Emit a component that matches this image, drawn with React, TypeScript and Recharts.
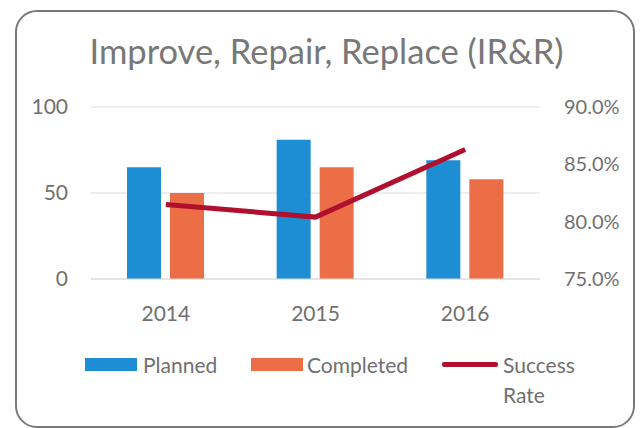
import React from 'react';
import { ComposedChart, Bar, Line, XAxis, YAxis, CartesianGrid, Legend } from 'recharts';

const years = ['2014', '2015', '2016'];
const planned = [65, 81, 69];
const completed = [50, 65, 58];
const successRate = [0.815, 0.804, 0.863];
const leftTicks = [0, 50, 100];
const rightTicks = [0.75, 0.8, 0.85, 0.9];

const data = years.map((y, i) => ({
  year: y,
  planned: planned[i],
  completed: completed[i],
  rate: successRate[i],
}));

const FONT = 'Lato, "Open Sans", sans-serif';
const BLUE = '#1E8ED4';
const ORANGE = '#EC6E47';
const RED = '#B0102E';
const TEXT = '#707070';

const LegendContent = () => (
  <div style={{ position: 'relative', width: 644, height: 70, fontFamily: FONT, fontSize: 21, color: TEXT }}>
    <div style={{ position: 'absolute', left: 85, top: 8, width: 52, height: 13, background: BLUE }} />
    <div style={{ position: 'absolute', left: 143, top: 0, lineHeight: '30px' }}>Planned</div>
    <div style={{ position: 'absolute', left: 251, top: 8, width: 52, height: 13, background: ORANGE }} />
    <div style={{ position: 'absolute', left: 307, top: 0, lineHeight: '30px' }}>Completed</div>
    <div style={{ position: 'absolute', left: 442, top: 12, width: 56, height: 5, background: RED, borderRadius: 2 }} />
    <div style={{ position: 'absolute', left: 503, top: 0, lineHeight: '30px' }}>
      Success
      <br />
      Rate
    </div>
  </div>
);

export default function App() {
  return (
    <div style={{ position: 'absolute', left: 0, top: 0, width: 644, height: 428, background: '#fff', overflow: 'hidden' }}>
      <div
        style={{
          position: 'absolute',
          left: 15,
          top: 10,
          width: 620,
          height: 418,
          border: '2px solid #7a7a7a',
          borderRadius: 22,
          boxSizing: 'border-box',
        }}
      />
      <div
        style={{
          position: 'absolute',
          left: 0,
          top: 31,
          width: 653,
          textAlign: 'center',
          fontFamily: FONT,
          fontSize: 34.5,
          lineHeight: '40px',
          color: '#787878',
        }}
      >
        Improve, Repair, Replace (IR&amp;R)
      </div>
      <ComposedChart
        width={644}
        height={428}
        data={data}
        margin={{ top: 107, right: 0, bottom: 119, left: 0 }}
        barSize={34}
        barGap={9}
        style={{ position: 'absolute', left: 0, top: 0 }}
      >
        <CartesianGrid yAxisId="left" vertical={false} stroke="#dcdcdc" strokeWidth={1} />
        <XAxis
          dataKey="year"
          height={30}
          axisLine={{ stroke: '#dcdcdc' }}
          tickLine={false}
          tickSize={0}
          tickMargin={27}
          tick={{ fill: TEXT, fontSize: 21, fontFamily: FONT }}
        />
        <YAxis
          yAxisId="left"
          orientation="left"
          width={91}
          domain={[0, 100]}
          ticks={leftTicks}
          axisLine={false}
          tickLine={false}
          tickSize={0}
          tickMargin={23}
          tick={{ fill: TEXT, fontSize: 21, fontFamily: FONT }}
        />
        <YAxis
          yAxisId="right"
          orientation="right"
          width={104}
          domain={[0.75, 0.9]}
          ticks={rightTicks}
          axisLine={false}
          tickLine={false}
          tickSize={0}
          tickMargin={24}
          tickFormatter={(v: number) => (v * 100).toFixed(1) + '%'}
          tick={{ fill: TEXT, fontSize: 20, fontFamily: FONT }}
        />
        <Bar yAxisId="left" dataKey="planned" name="Planned" fill={BLUE} isAnimationActive={false} />
        <Bar yAxisId="left" dataKey="completed" name="Completed" fill={ORANGE} isAnimationActive={false} />
        <Line
          yAxisId="right"
          dataKey="rate"
          name="Success Rate"
          type="linear"
          stroke={RED}
          strokeWidth={5}
          dot={false}
          activeDot={false}
          isAnimationActive={false}
        />
        <Legend
          layout="horizontal"
          verticalAlign="middle"
          align="center"
          content={<LegendContent />}
          wrapperStyle={{ position: 'absolute', left: 0, top: 350, width: 644, height: 70 }}
        />
      </ComposedChart>
    </div>
  );
}
